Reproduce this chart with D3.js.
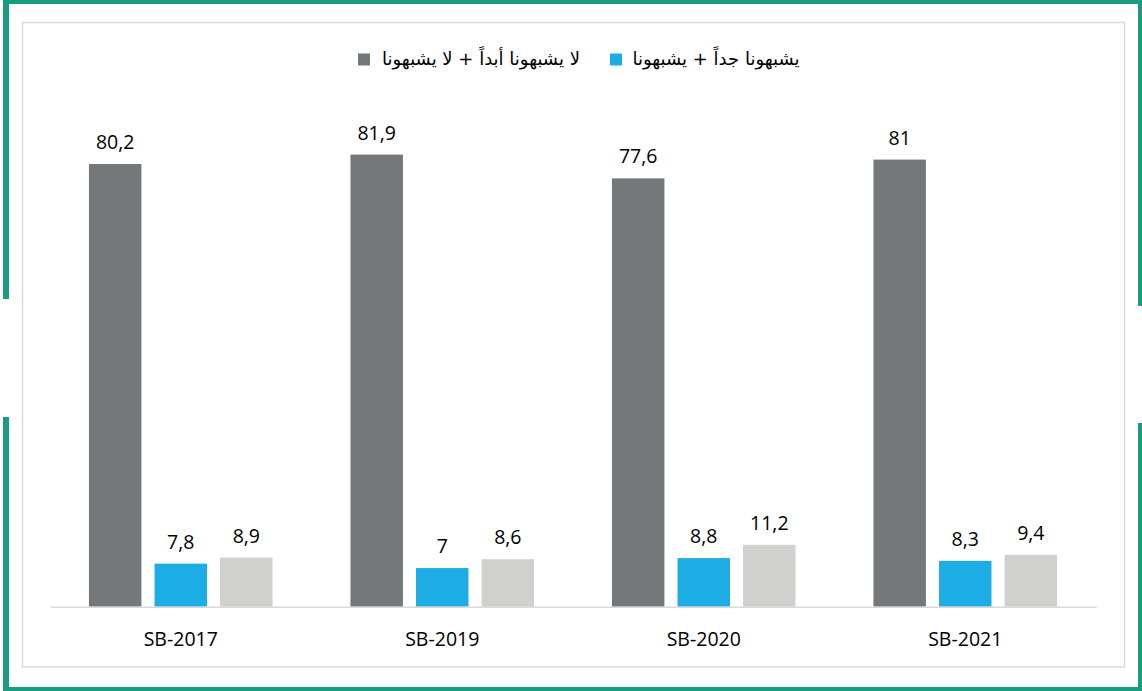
<!DOCTYPE html>
<html>
<head>
<meta charset="utf-8">
<script src="https://cdn.jsdelivr.net/npm/d3@7"></script>
<style>
  html, body { margin: 0; padding: 0; background: #fff; }
  svg { display: block; }
</style>
</head>
<body>
<svg id="chart" width="1142" height="691"></svg>
<script>
// ---- data ----
const categories = ["SB-2017", "SB-2019", "SB-2020", "SB-2021"];
const seriesNames = ["لا يشبهونا أبداً + لا يشبهونا", "يشبهونا جداً + يشبهونا", "لا أعرف"];
const notLikeUs = [80.2, 81.9, 77.6, 81];
const likeUs = [7.8, 7, 8.8, 8.3];
const dontKnow = [8.9, 8.6, 11.2, 9.4];
const legendSeries = [0, 1]; // third series not shown in legend
const colors = ["#75787B", "#1CADE4", "#D0D0CF"];

const seriesValues = [notLikeUs, likeUs, dontKnow];
const fmt = v => String(v).replace(".", ",");

const svg = d3.select("#chart");

// ---- outer frame ----
const green = "#1A9C80";
const frame = svg.append("g");
frame.append("rect").attr("x", 3).attr("y", 0).attr("width", 1139).attr("height", 4).attr("fill", green);
frame.append("rect").attr("x", 3).attr("y", 687).attr("width", 1139).attr("height", 4).attr("fill", green);
frame.append("rect").attr("x", 3).attr("y", 0).attr("width", 6).attr("height", 299).attr("fill", green);
frame.append("rect").attr("x", 3).attr("y", 417).attr("width", 6).attr("height", 274).attr("fill", green);
frame.append("rect").attr("x", 1138).attr("y", 0).attr("width", 4).attr("height", 306).attr("fill", green);
frame.append("rect").attr("x", 1138).attr("y", 423).attr("width", 4).attr("height", 268).attr("fill", green);

// inner gray border
svg.append("rect").attr("x", 22.5).attr("y", 22.5).attr("width", 1102).attr("height", 644.5)
  .attr("fill", "none").attr("stroke", "#D9D9D9").attr("stroke-width", 1.5);

// ---- scales ----
const x0 = d3.scaleBand().domain(categories).range([50, 1096]).padding(0);
const bw = x0.bandwidth();
const x1 = d3.scaleBand().domain(d3.range(seriesValues.length))
  .range([bw * 0.149, bw * 0.851]).paddingInner(0.2);
const y = d3.scaleLinear().domain([0, 100]).range([606.7, 54.7]);

// ---- bars ----
const groups = svg.append("g").selectAll("g")
  .data(categories).join("g")
  .attr("transform", d => `translate(${x0(d)},0)`);

groups.each(function(cat, ci) {
  const g = d3.select(this);
  seriesValues.forEach((vals, si) => {
    const v = vals[ci];
    g.append("rect")
      .attr("x", x1(si)).attr("width", x1.bandwidth())
      .attr("y", y(v)).attr("height", y(0) - y(v))
      .attr("fill", colors[si]);
    g.append("text")
      .attr("x", x1(si) + x1.bandwidth() / 2)
      .attr("y", y(v) - 15)
      .attr("text-anchor", "middle")
      .attr("font-family", "'Open Sans', sans-serif")
      .attr("font-size", 19.5)
      .attr("fill", "#000")
      .text(fmt(v));
  });
});

// ---- x axis ----
const xAxis = d3.axisBottom(x0).tickSize(0).tickPadding(0);
const ax = svg.append("g").attr("transform", `translate(0,${y(0)})`).call(xAxis);
ax.select(".domain").attr("stroke", "#D9D9D9").attr("stroke-width", 1.5);
ax.selectAll(".tick text")
  .attr("y", 39)
  .attr("dy", 0)
  .attr("font-family", "'Open Sans', sans-serif")
  .attr("font-size", 19.5)
  .attr("fill", "#000");

// ---- legend ----
const legendPos = [
  { sq: 358, tx: 481 },
  { sq: 610, tx: 716 }
];
const leg = svg.append("g");
legendSeries.forEach((si, i) => {
  leg.append("rect").attr("x", legendPos[i].sq).attr("y", 53.5)
    .attr("width", 12).attr("height", 12).attr("fill", colors[si]);
  leg.append("text")
    .attr("x", legendPos[i].tx).attr("y", 65)
    .attr("text-anchor", "middle")
    .attr("direction", "rtl")
    .attr("font-family", "'DejaVu Sans', sans-serif")
    .attr("font-size", 18)
    .attr("fill", "#000")
    .text(seriesNames[si]);
});
</script>
</body>
</html>
